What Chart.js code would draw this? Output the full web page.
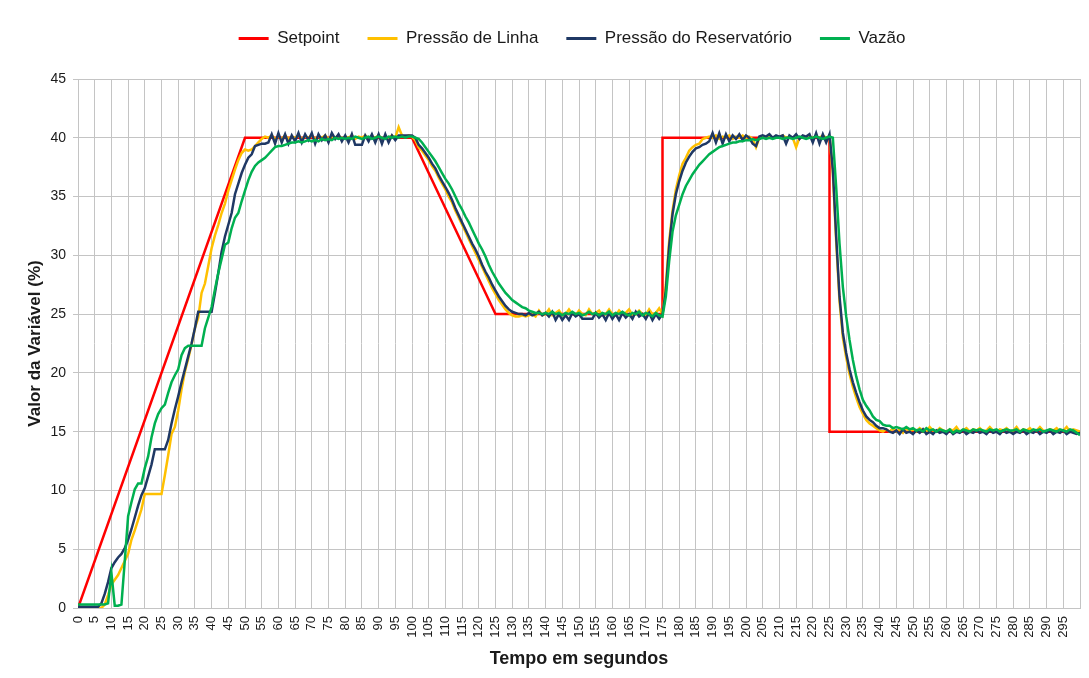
<!DOCTYPE html>
<html lang="pt-BR">
<head>
<meta charset="utf-8">
<title>Setpoint, pressões e vazão</title>
<script src="https://cdn.jsdelivr.net/npm/chart.js@4/dist/chart.umd.min.js"></script>
<style>
  html, body { margin: 0; padding: 0; background: #ffffff; }
  #grafico { display: block; }
</style>
</head>
<body>
<canvas id="grafico" width="1089" height="678"></canvas>
<script>
// grafico.js - Setpoint x pressões x vazão (amostras de 1 s)

// === DADOS ===
// eixo do tempo: uma amostra por segundo, de 0 a 300 s
const tempo = Array.from({ length: 301 }, (_, i) => i);

// setpoint: só os vértices da curva
const setpointTempo = [0, 50, 100, 125, 175, 175, 225, 225, 300];
const setpointValor = [0, 40, 40, 25, 25, 40, 40, 15, 15];

const pressaoLinha = [
  0, 0, 0, 0, 0, 0, 0, 0, 0.3, 1.1,
  2.0, 2.4, 2.8, 3.4, 4.0, 4.6, 5.8, 6.6, 7.5, 8.4,
  9.7, 9.7, 9.7, 9.7, 9.7, 9.7, 11.3, 13.0, 14.8, 15.4,
  16.8, 18.6, 20.1, 21.2, 22.4, 23.8, 24.7, 26.8, 27.6, 29.1,
  30.6, 31.7, 32.6, 33.6, 34.4, 35.5, 36.4, 37.3, 38.1, 38.7,
  39.0, 38.9, 39.0, 39.3, 39.6, 39.9, 40.1, 40.0, 40.2, 39.9,
  40.1, 39.9, 40.2, 39.9, 40.1, 40.0, 40.2, 39.9, 40.1, 40.0,
  40.2, 39.9, 40.1, 40.0, 40.2, 39.9, 40.1, 40.0, 40.2, 39.9,
  40.1, 40.0, 40.2, 39.9, 40.1, 40.0, 40.2, 39.9, 40.1, 40.0,
  40.2, 39.9, 40.1, 40.0, 40.2, 40.0, 40.9, 40.2, 40.1, 40.2,
  40.1, 39.8, 39.2, 38.9, 38.5, 38.1, 37.6, 37.2, 36.6, 36.1,
  35.6, 35.0, 34.5, 33.8, 33.2, 32.6, 32.0, 31.4, 30.8, 30.2,
  29.6, 29.0, 28.4, 27.8, 27.2, 26.7, 26.2, 25.8, 25.4, 25.1,
  24.9, 24.8, 24.8, 24.9, 24.8, 24.9, 25.0, 24.8, 25.3, 24.9,
  25.0, 25.4, 24.9, 25.1, 25.3, 24.9, 25.0, 25.4, 25.0, 24.9,
  25.3, 25.0, 24.9, 25.4, 25.0, 25.1, 25.3, 24.9, 25.0, 25.4,
  25.0, 24.9, 25.3, 25.0, 25.1, 25.4, 24.9, 25.0, 25.3, 25.0,
  24.9, 25.4, 25.0, 25.1, 25.5, 25.0, 27.5, 31.2, 33.8, 35.6,
  36.8, 37.8, 38.3, 38.9, 39.2, 39.4, 39.5, 39.9, 40.0, 40.1,
  40.0, 40.2, 39.9, 40.1, 40.0, 40.2, 39.9, 40.1, 40.0, 40.2,
  40.0, 40.1, 39.9, 39.2, 40.0, 40.1, 40.0, 40.2, 40.0, 40.1,
  40.0, 40.2, 40.0, 40.1, 40.0, 39.2, 40.0, 40.1, 40.0, 40.1,
  40.0, 40.1, 40.0, 40.2, 40.0, 40.1, 37.0, 31.2, 26.1, 23.0,
  21.3, 19.9, 18.8, 17.9, 17.1, 16.5, 16.0, 15.7, 15.5, 15.3,
  15.1, 15.0, 15.2, 15.0, 15.3, 15.0, 15.2, 14.9, 15.3, 15.0,
  15.2, 15.0, 15.3, 15.1, 15.0, 15.4, 15.1, 15.0, 15.3, 15.1,
  15.0, 15.2, 15.1, 15.4, 15.0, 15.1, 15.3, 15.0, 15.2, 15.1,
  15.3, 15.0, 15.1, 15.4, 15.1, 15.0, 15.2, 15.1, 15.3, 15.0,
  15.1, 15.4, 15.0, 15.2, 15.1, 15.3, 15.0, 15.1, 15.4, 15.1,
  15.0, 15.2, 15.1, 15.3, 15.0, 15.1, 15.4, 15.0, 15.2, 15.1,
  15.0
];

const pressaoReservatorio = [
  0.1, 0.1, 0.1, 0.1, 0.1, 0.1, 0.1, 0.4, 1.2, 2.2,
  3.4, 3.9, 4.3, 4.6, 5.1, 5.8, 6.7, 7.7, 8.7, 9.6,
  10.2, 11.2, 12.2, 13.5, 13.5, 13.5, 13.5, 14.3, 15.7, 16.9,
  18.0, 19.2, 20.3, 21.4, 22.5, 23.8, 25.2, 25.2, 25.2, 25.2,
  25.2, 26.8, 28.5, 30.3, 31.6, 32.6, 33.6, 35.2, 36.1, 37.0,
  37.7, 38.3, 38.6, 39.3, 39.4, 39.5, 39.5, 39.6, 40.3, 39.5,
  40.4, 39.6, 40.3, 39.5, 40.2, 39.7, 40.4, 39.6, 40.3, 39.8,
  40.4, 39.5, 40.3, 39.8, 40.2, 39.6, 40.4, 39.9, 40.3, 39.7,
  40.2, 39.6, 40.3, 39.4, 39.4, 39.4, 40.2, 39.7, 40.3, 39.6,
  40.3, 39.5, 40.3, 39.6, 40.2, 39.8, 40.2, 40.2, 40.2, 40.2,
  40.2, 40.0, 39.4, 39.1, 38.7, 38.3, 37.8, 37.4, 36.8, 36.3,
  35.8, 35.3, 34.7, 34.0, 33.4, 32.8, 32.2, 31.6, 31.0, 30.5,
  29.9, 29.2, 28.6, 28.1, 27.5, 27.0, 26.5, 26.1, 25.7, 25.4,
  25.2, 25.1, 25.0, 25.0, 24.9, 25.1, 24.9, 25.0, 25.2, 24.9,
  25.1, 24.8, 25.2, 24.5, 25.0, 24.5, 24.9, 24.5, 25.1, 24.8,
  25.0, 24.6, 24.6, 24.6, 24.6, 25.1, 24.7, 25.0, 24.5, 25.1,
  24.6, 25.0, 24.5, 25.1, 24.7, 25.0, 24.6, 25.2, 24.8, 25.0,
  24.6, 25.1, 24.5, 25.0, 24.6, 25.0, 27.0, 30.8, 33.5, 35.2,
  36.3, 37.2, 37.9, 38.4, 38.8, 39.1, 39.2, 39.4, 39.5, 39.7,
  40.4, 39.6, 40.4, 39.5, 40.3, 39.7, 40.2, 39.9, 40.3, 39.8,
  40.2, 40.0, 39.5, 39.3, 40.1, 40.2, 40.1, 40.3, 40.0, 40.2,
  40.1, 40.2, 39.5, 40.2, 40.0, 40.3, 39.9, 40.2, 40.1, 40.3,
  39.6, 40.4, 39.5, 40.3, 39.6, 40.3, 37.3, 31.6, 26.5, 23.4,
  21.7, 20.3, 19.2, 18.3, 17.5, 16.8, 16.3, 16.0, 15.8, 15.5,
  15.3, 15.3, 15.2, 15.0, 14.9, 15.1, 14.8, 15.2, 14.9, 15.0,
  14.8, 15.1, 14.9, 15.2, 14.8, 15.0, 14.8, 15.1, 14.9, 15.0,
  14.8, 15.1, 14.8, 15.0, 14.9, 15.1, 14.8, 15.0, 14.9, 15.1,
  14.9, 15.0, 14.8, 15.1, 14.9, 15.0, 14.8, 15.1, 14.9, 15.0,
  14.8, 15.0, 14.9, 15.1, 14.8, 15.0, 14.9, 15.1, 14.8, 15.0,
  14.9, 15.1, 14.8, 15.0, 14.9, 15.1, 14.8, 15.0, 14.9, 14.8,
  14.9
];

const vazao = [
  0.3, 0.3, 0.3, 0.3, 0.3, 0.3, 0.3, 0.3, 0.3, 0.4,
  3.0, 0.2, 0.2, 0.3, 4.0, 7.8, 9.0, 10.1, 10.6, 10.6,
  11.9, 12.9, 14.5, 15.7, 16.5, 17.0, 17.3, 18.3, 19.2, 19.8,
  20.3, 21.5, 22.1, 22.3, 22.3, 22.3, 22.3, 22.3, 23.8, 24.7,
  25.6, 27.1, 28.5, 29.7, 30.9, 31.1, 32.3, 33.2, 33.6, 34.6,
  35.5, 36.4, 37.1, 37.6, 37.9, 38.1, 38.3, 38.6, 38.9, 39.2,
  39.3, 39.3, 39.4, 39.5, 39.6, 39.6, 39.7, 39.6, 39.7, 39.8,
  39.7, 39.8, 39.7, 39.9, 39.8, 39.9, 39.8, 40.0, 39.9, 40.0,
  39.9, 40.0, 39.9, 40.1, 40.0, 39.9, 40.0, 40.1, 39.9, 40.0,
  40.1, 40.0, 39.9, 40.1, 40.0, 40.1, 40.0, 40.1, 40.0, 40.1,
  40.1, 40.0, 39.9, 39.6, 39.2, 38.8, 38.4, 38.0, 37.5, 37.0,
  36.5, 36.1, 35.6, 35.0, 34.4, 33.9, 33.3, 32.8, 32.2, 31.6,
  31.0, 30.5, 29.9, 29.2, 28.6, 28.1, 27.6, 27.2, 26.8, 26.5,
  26.2, 26.0, 25.8, 25.6, 25.5, 25.3, 25.2, 25.1, 25.1, 25.0,
  25.1, 25.0, 25.2, 25.0, 25.1, 24.9, 25.1, 25.0, 25.2, 25.0,
  25.1, 24.9, 25.0, 25.2, 25.0, 25.1, 24.9, 25.1, 25.0, 25.2,
  24.9, 25.1, 25.0, 25.2, 25.0, 24.9, 25.1, 25.0, 25.2, 24.9,
  25.1, 25.0, 24.8, 25.1, 24.9, 24.8, 26.5, 29.5, 32.0, 33.4,
  34.3, 35.2, 35.9, 36.4, 36.9, 37.3, 37.7, 38.0, 38.3, 38.6,
  38.8, 39.0, 39.2, 39.3, 39.4, 39.5, 39.6, 39.6, 39.7, 39.7,
  39.8, 39.8, 39.9, 39.8, 39.9, 40.0, 39.9, 40.0, 39.9, 40.0,
  40.0, 39.9, 40.0, 40.0, 39.9, 40.0, 40.1, 40.0, 39.9, 40.0,
  40.0, 40.1, 40.0, 39.9, 40.0, 40.1, 40.0, 35.8, 31.0, 27.3,
  24.8, 22.8, 21.1, 19.7, 18.6, 17.7, 17.2, 16.8, 16.3, 16.0,
  15.9, 15.6, 15.5, 15.5, 15.3, 15.4, 15.3, 15.2, 15.4, 15.2,
  15.3, 15.1, 15.2, 15.0, 15.3, 15.1, 15.2, 15.0, 15.2, 15.1,
  15.0, 15.2, 14.9, 15.1, 15.0, 15.2, 15.1, 15.0, 15.2, 15.1,
  15.2, 15.1, 15.0, 15.2, 15.1, 15.2, 15.0, 15.1, 15.2, 15.1,
  15.1, 15.2, 15.0, 15.2, 15.1, 15.0, 15.2, 15.1, 15.2, 15.0,
  15.1, 15.2, 15.1, 15.0, 15.2, 15.1, 15.0, 15.2, 15.1, 14.9,
  14.7
];

// ticks do eixo Y (0 a 45, de 5 em 5)
const yTicks = [0, 5, 10, 15, 20, 25, 30, 35, 40, 45];

// --- Estilo ---
const FONTE = "'Liberation Sans', Arial, sans-serif";
const COR_GRADE = '#c4c4c4';
const ALTURA_LEGENDA = 79;   // topo da área do gráfico em y = 79
const DESLOCA_LEGENDA_X = 28;
const DESLOCA_LEGENDA_Y = 2;

const pares = (xs, ys) => xs.map((x, i) => ({ x: x, y: ys[i] }));

// a legenda do Chart.js não tem afterFit, então ajustamos aqui
const ajusteLegenda = {
    id: 'ajusteLegenda',
    beforeLayout(chart) {
        const legenda = chart.legend;
        if (!legenda || legenda._ajustada) return;
        const fitOriginal = legenda.fit;
        legenda.fit = function () {
            fitOriginal.call(this);
            this.height = ALTURA_LEGENDA;
        };
        const drawOriginal = legenda.draw;
        legenda.draw = function () {
            const ctx = this.ctx;
            ctx.save();
            ctx.translate(DESLOCA_LEGENDA_X, DESLOCA_LEGENDA_Y);
            drawOriginal.call(this);
            ctx.restore();
        };
        legenda._ajustada = true;
    }
};

const linha = (label, dados, cor, ordem) => ({
    label: label,
    data: dados,
    borderColor: cor,
    backgroundColor: cor,
    borderWidth: 2.5,
    pointRadius: 0,
    tension: 0,
    order: ordem
});

new Chart(document.getElementById('grafico'), {
    type: 'line',
    data: {
        datasets: [
            linha('Setpoint', pares(setpointTempo, setpointValor), '#ff0000', 4),
            linha('Pressão de Linha', pares(tempo, pressaoLinha), '#ffc000', 3),
            linha('Pressão do Reservatório', pares(tempo, pressaoReservatorio), '#1f3864', 2),
            linha('Vazão', pares(tempo, vazao), '#00b050', 1)
        ]
    },
    options: {
        responsive: false,
        animation: false,
        events: [],
        layout: { padding: { left: 8, right: 9, top: 0, bottom: 8 } },
        scales: {
            x: {
                type: 'linear',
                min: 0,
                max: 300,
                afterBuildTicks: (escala) => {
                    escala.ticks = tempo.filter(t => t % 5 === 0).map(t => ({ value: t }));
                },
                afterFit: (escala) => {
                    escala.height = 62;
                    escala.paddingLeft = 0;
                    escala.paddingRight = 0;
                },
                ticks: {
                    autoSkip: false,
                    maxRotation: 90,
                    minRotation: 90,
                    padding: 8,
                    color: '#1a1a1a',
                    font: { family: FONTE, size: 13 },
                    callback: (v) => (v < 300 ? v : '')
                },
                grid: { color: COR_GRADE, drawTicks: false },
                border: { color: COR_GRADE },
                title: {
                    display: true,
                    text: 'Tempo em segundos',
                    color: '#1a1a1a',
                    font: { family: FONTE, size: 18, weight: 'bold' },
                    padding: { top: 0, bottom: 0 }
                }
            },
            y: {
                min: 0,
                max: 45,
                afterBuildTicks: (escala) => {
                    escala.ticks = yTicks.map(v => ({ value: v }));
                },
                afterFit: (escala) => { escala.width = 70; },
                ticks: {
                    padding: 7,
                    color: '#1a1a1a',
                    font: { family: FONTE, size: 14 }
                },
                grid: { color: COR_GRADE, tickLength: 5, tickColor: COR_GRADE },
                border: { color: COR_GRADE },
                title: {
                    display: true,
                    text: 'Valor da Variável (%)',
                    color: '#1a1a1a',
                    font: { family: FONTE, size: 17, weight: 'bold' },
                    padding: { top: 17, bottom: 0 }
                }
            }
        },
        plugins: {
            legend: {
                position: 'top',
                labels: {
                    boxWidth: 30,
                    boxHeight: 3,
                    padding: 28,
                    color: '#1a1a1a',
                    font: { family: FONTE, size: 17 },
                    sort: (a, b) => a.datasetIndex - b.datasetIndex,
                    generateLabels: (chart) => {
                        const itens = Chart.defaults.plugins.legend.labels.generateLabels(chart);
                        return itens.map(item => ({ ...item, lineWidth: 0 }));
                    }
                }
            },
            tooltip: { enabled: false }
        }
    },
    plugins: [ajusteLegenda]
});
</script>
</body>
</html>
